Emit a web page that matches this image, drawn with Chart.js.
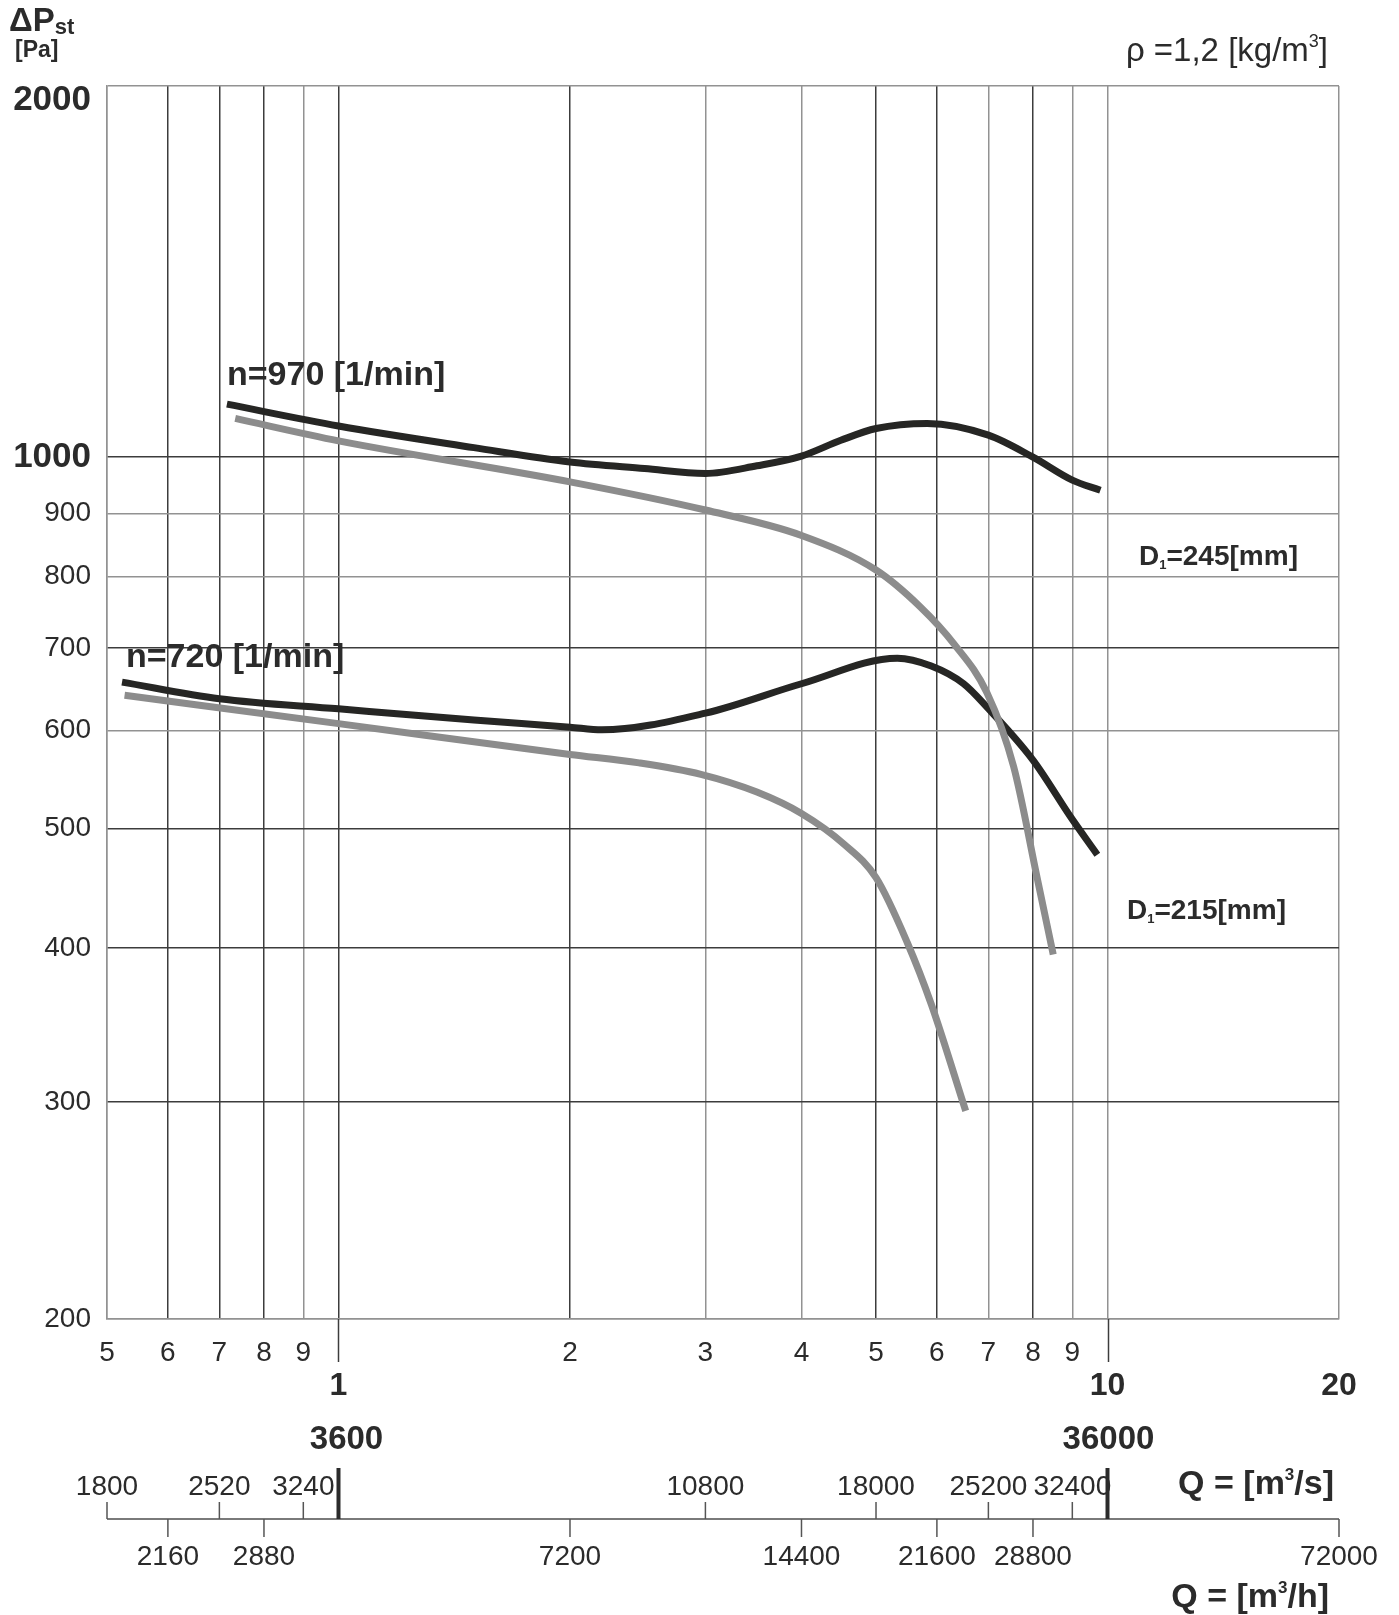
<!DOCTYPE html>
<html><head><meta charset="utf-8">
<script src="https://cdn.jsdelivr.net/npm/chart.js@4.4.0/dist/chart.umd.min.js"></script>
<style>html,body{margin:0;padding:0;background:#fff;}canvas{display:block;}</style>
</head><body>
<div style="width:1399px;height:1615px;position:relative"><canvas id="c"></canvas></div>
<script>
// ---- axis ticks / labels ----
const xGridTicks   = [0.5,0.6,0.7,0.8,0.9,1,2,3,4,5,6,7,8,9,10,20];
const xMinorLabels = ['5','6','7','8','9','','2','3','4','5','6','7','8','9','',''];
const xMajorTicks  = [1,10,20];
const xMajorLabels = ['1','10','20'];
const yGridTicks   = [200,300,400,500,600,700,800,900,1000,2000];
const yTickLabels  = ['200','300','400','500','600','700','800','900','1000','2000'];
const yBoldTicks   = [1000,2000];
const qhUpper      = [1800,2520,3240,10800,18000,25200,32400];
const qhLower      = [2160,2880,7200,14400,21600,28800,72000];
const qhMajor      = [3600,36000];

// ---- series (Q in m3/s, dPst in Pa) ----
const q970_245 = [0.716,1.0,1.5,2.0,2.5,3.0,3.5,4.0,4.5,5.0,5.83,7.0,8.0,9.0,9.79];
const p970_245 = [1104,1060,1018,991,979,970,984,1002,1032,1055,1065,1042,1000,958,940];

const q970_215 = [0.734,1.0,2.0,3.0,4.0,5.0,5.71,6.31,6.97,7.55,8.1,8.5];
const p970_215 = [1075,1031,955,906,864,810,756,706,644,561,456,395];

const q720_245 = [0.523,0.7,1.0,1.5,2.0,2.2,3.0,4.0,5.33,5.9,6.5,6.97,8.0,8.97,9.7];
const p720_245 = [657,637,625,612,604,601,620,655,687,677,655,627,568,510,476];

const q720_215 = [0.527,1.0,2.0,2.46,2.96,3.5,4.0,4.55,5.0,5.49,5.9,6.54];
const p720_215 = [641,608,574,565,553,535,514,485,456,404,360,295];

const BLACK = '#262624', GRAY = '#8c8c8c';
const xDark = [0.6,0.7,0.8,1,2,5,6,8];
const yDark = [300,400,500,700,1000];
const GRID_DARK = '#3c3c3c', GRID_GRAY = '#929292';
const TXT = '#2b2b2b';
const FONT = '"Liberation Sans", Arial, Helvetica, sans-serif';

function pts(xs, ys){ return xs.map((x,i)=>({x:x, y:ys[i]})); }
function ds(xs, ys, color){
  return {data: pts(xs,ys), showLine:true, borderColor:color, backgroundColor:color,
    borderWidth:7, pointRadius:0, pointHoverRadius:0, cubicInterpolationMode:'monotone',
    borderCapStyle:'butt', borderJoinStyle:'round', fill:false};
}

function rich(ctx, parts, x, y, align){
  let w = 0;
  parts.forEach(p=>{ ctx.font = p.font; p.w = ctx.measureText(p.t).width; w += p.w; });
  let cx = align==='right' ? x - w : (align==='center' ? x - w/2 : x);
  ctx.textAlign = 'left';
  parts.forEach(p=>{ ctx.font = p.font; ctx.fillText(p.t, cx, y + (p.dy||0)); cx += p.w; });
}

const textPlugin = {
  id:'texts',
  afterDraw(chart){
    const ctx = chart.ctx, xs = chart.scales.x, ys = chart.scales.y, ca = chart.chartArea;
    ctx.save();
    ctx.fillStyle = TXT; ctx.strokeStyle = TXT;
    // y tick labels
    ctx.textAlign = 'right'; ctx.textBaseline = 'middle';
    yGridTicks.forEach((v,i)=>{
      const bold = yBoldTicks.includes(v);
      ctx.font = (bold ? 'bold 35px ' : '28px ') + FONT;
      const off = (v === 2000) ? 14 : 0;
      ctx.fillText(yTickLabels[i], ca.left - 16, ys.getPixelForValue(v) + off);
    });
    // x minor labels
    ctx.textAlign = 'center';
    ctx.font = '28px ' + FONT;
    xGridTicks.forEach((v,i)=>{
      if (xMinorLabels[i]) ctx.fillText(xMinorLabels[i], xs.getPixelForValue(v), ca.bottom + 34);
    });
    // extension ticks at decades
    ctx.lineWidth = 1.5; ctx.strokeStyle = GRID_DARK;
    [1,10].forEach(v=>{
      const px = Math.round(xs.getPixelForValue(v)) + 0.5;
      ctx.beginPath(); ctx.moveTo(px, ca.bottom); ctx.lineTo(px, ca.bottom + 43); ctx.stroke();
    });
    // x major labels
    ctx.font = 'bold 32px ' + FONT;
    xMajorTicks.forEach((v,i)=>{
      ctx.fillText(xMajorLabels[i], xs.getPixelForValue(v), ca.bottom + 67);
    });
    // m3/h axis
    const axY = ca.bottom + 200;
    ctx.strokeStyle = '#7a7a7a'; ctx.lineWidth = 2;
    ctx.beginPath(); ctx.moveTo(xs.getPixelForValue(0.5), axY); ctx.lineTo(xs.getPixelForValue(20), axY); ctx.stroke();
    ctx.strokeStyle = '#555'; ctx.lineWidth = 1.5;
    ctx.font = '28px ' + FONT;
    qhUpper.forEach(v=>{
      const px = xs.getPixelForValue(v/3600);
      ctx.beginPath(); ctx.moveTo(px, axY); ctx.lineTo(px, axY - 17); ctx.stroke();
      ctx.fillText(String(v), px, axY - 32);
    });
    qhLower.forEach(v=>{
      const px = xs.getPixelForValue(v/3600);
      ctx.beginPath(); ctx.moveTo(px, axY); ctx.lineTo(px, axY + 18); ctx.stroke();
      ctx.fillText(String(v), px, axY + 38);
    });
    ctx.strokeStyle = TXT; ctx.lineWidth = 4;
    ctx.font = 'bold 33px ' + FONT;
    qhMajor.forEach((v,i)=>{
      const px = xs.getPixelForValue(v/3600);
      ctx.beginPath(); ctx.moveTo(px, axY); ctx.lineTo(px, axY - 51); ctx.stroke();
      ctx.fillText(String(v), px + (i===0 ? 8 : 1), ca.bottom + 121);
    });
    // unit labels
    ctx.textBaseline = 'alphabetic';
    rich(ctx, [{t:'Q = [m', font:'bold 34px '+FONT},{t:'3', font:'bold 17px '+FONT, dy:-14},{t:'/s]', font:'bold 34px '+FONT}], 1334, ca.bottom + 175, 'right');
    rich(ctx, [{t:'Q = [m', font:'bold 34px '+FONT},{t:'3', font:'bold 17px '+FONT, dy:-14},{t:'/h]', font:'bold 34px '+FONT}], 1329, ca.bottom + 288, 'right');
    // header
    rich(ctx, [{t:'\u0394P', font:'bold 33px '+FONT},{t:'st', font:'bold 22px '+FONT, dy:3}], 9, 31, 'left');
    rich(ctx, [{t:'[Pa]', font:'bold 23px '+FONT}], 15, 57, 'left');
    rich(ctx, [{t:'\u03C1 =1,2 [kg/m', font:'33px '+FONT},{t:'3', font:'18px '+FONT, dy:-14},{t:']', font:'33px '+FONT}], 1328, 61, 'right');
    // curve labels
    rich(ctx, [{t:'n=970 [1/min]', font:'bold 34px '+FONT}], 227, 385, 'left');
    rich(ctx, [{t:'n=720 [1/min]', font:'bold 34px '+FONT}], 126, 667, 'left');
    rich(ctx, [{t:'D', font:'bold 28px '+FONT},{t:'1', font:'bold 13px '+FONT, dy:4},{t:'=245[mm]', font:'bold 28px '+FONT}], 1139, 565, 'left');
    rich(ctx, [{t:'D', font:'bold 28px '+FONT},{t:'1', font:'bold 13px '+FONT, dy:4},{t:'=215[mm]', font:'bold 28px '+FONT}], 1127, 919, 'left');
    ctx.restore();
  }
};

const canvas = document.getElementById('c');
canvas.width = 1399; canvas.height = 1615;
new Chart(canvas, {
  type:'scatter',
  data:{ datasets:[
    ds(q970_215, p970_215, GRAY),
    ds(q720_215, p720_215, GRAY),
    ds(q970_245, p970_245, BLACK),
    ds(q720_245, p720_245, BLACK)
  ]},
  options:{
    responsive:false, animation:false, devicePixelRatio:1,
    layout:{padding:{left:107, top:86, right:60, bottom:296}},
    plugins:{legend:{display:false}, tooltip:{enabled:false}, title:{display:false}},
    scales:{
      x:{ type:'logarithmic', min:0.5, max:20,
        afterBuildTicks: s => { s.ticks = xGridTicks.map(v=>({value:v})); },
        afterFit: s => { s.height = 0; },
        ticks:{display:false},
        grid:{ drawTicks:false, lineWidth:1.5,
          color: c => (c.tick && xDark.includes(c.tick.value)) ? GRID_DARK : GRID_GRAY },
        border:{display:true, color:GRID_GRAY, width:1.5}
      },
      y:{ type:'logarithmic', min:200, max:2000,
        afterBuildTicks: s => { s.ticks = yGridTicks.map(v=>({value:v})); },
        afterFit: s => { s.width = 0; },
        ticks:{display:false},
        grid:{ drawTicks:false, lineWidth:1.5,
          color: c => (c.tick && yDark.includes(c.tick.value)) ? GRID_DARK : GRID_GRAY },
        border:{display:true, color:GRID_GRAY, width:1.5}
      }
    }
  },
  plugins:[textPlugin]
});
</script>
</body></html>
